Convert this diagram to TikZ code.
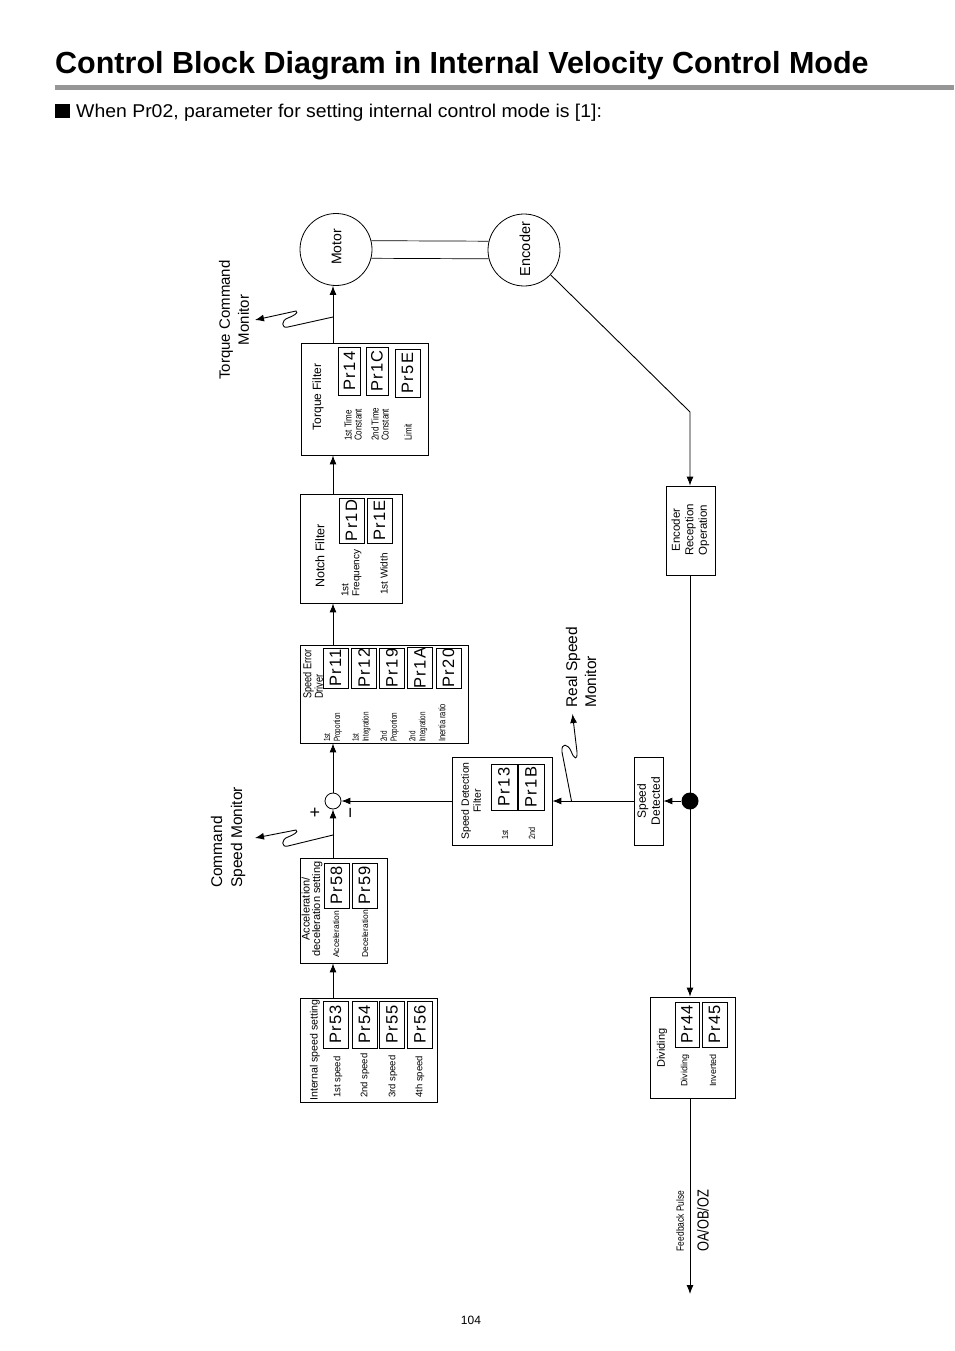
\documentclass[tikz,border=0pt]{standalone}
\usepackage{fontspec}
\setmainfont{Liberation Sans}
\newfontfamily\nfont[FakeStretch=0.8]{Liberation Sans}
\newfontfamily\vnfont[FakeStretch=0.7]{Liberation Sans}
\newfontfamily\prfont[LetterSpace=8]{Liberation Sans}
\newfontfamily\wfont[FakeStretch=1.05]{Liberation Sans}
\usetikzlibrary{arrows.meta,calc}
\newcommand\fsz[2]{\fontsize{#1}{#2}\selectfont}
\definecolor{barcol}{RGB}{150,150,150}
\begin{document}
\begin{tikzpicture}[x=1pt,y=-1pt,
  box/.style={draw, line width=0.8pt, inner sep=0pt, rectangle},
  prm/.style={draw, line width=0.9pt, rotate=90, inner sep=0pt, font=\prfont\fsz{16.5}{16.5}},
  rt/.style={rotate=90, inner sep=0pt},
  lbl/.style={rotate=90, inner sep=0pt, anchor=west, align=left},
  wire/.style={line width=0.9pt},
  arr/.style={line width=0.9pt, -{Latex[length=9pt,width=7pt]}}]
\useasboundingbox (0,0) rectangle (954,1351);
\fill[white] (0,0) rectangle (954,1351);

% ---- header
\node[anchor=base west, inner sep=0pt, font=\bfseries\fsz{30.5}{32}] (title) at (55,74) {Control Block Diagram in Internal Velocity Control Mode};
\fill[barcol] (55,85) rectangle (954,90.5);
\fill[black] (55,104) rectangle (70,118);
\node[anchor=base west, inner sep=0pt, font=\wfont\fsz{18.5}{19}] (sub) at (76,118) {When Pr02, parameter for setting internal control mode is [1]:};

\coordinate (mx) at (333,0);
\coordinate (fx) at (690,0);

% ---- motor / encoder
\node[circle, draw, line width=0.8pt, minimum size=72pt, inner sep=0pt] (mot) at (336,249.5) {};
\node[rt, font=\fsz{14}{14}] (motl) at (336.5,247) {Motor};
\node[circle, draw, line width=0.8pt, minimum size=72pt, inner sep=0pt] (enc) at (524,250) {};
\node[rt, font=\fsz{14.5}{14.5}] (encl) at (525,249) {Encoder};
\draw[line width=0.7pt] (mot.14) -- (enc.166);
\draw[line width=0.7pt] (mot.-14) -- (enc.-166);

% ---- main boxes
\node[box, minimum width=127pt, minimum height=112pt] (torque) at (364.5,399) {};
\node[box, minimum width=102pt, minimum height=109pt] (notch) at (351,548.5) {};
\node[box, minimum width=168pt, minimum height=98pt] (sed) at (384,694) {};
\node[box, minimum width=87pt, minimum height=105pt] (accel) at (343.5,910.5) {};
\node[box, minimum width=137pt, minimum height=104pt] (intsp) at (368.5,1050) {};
\node[box, minimum width=100pt, minimum height=88pt] (sdf) at (502,801) {};
\node[box, minimum width=29pt, minimum height=88pt] (spdet) at (648.5,801) {};
\node[box, minimum width=49pt, minimum height=89pt] (encrec) at (690.5,530.5) {};
\node[box, minimum width=85pt, minimum height=101pt] (divid) at (692.5,1047.5) {};
\node[circle, draw, line width=0.8pt, minimum size=16pt, inner sep=0pt] (sum) at (333,801) {};
\node[circle, fill=black, minimum size=17pt, inner sep=0pt] (dot) at (690,801) {};

% ---- torque filter
\node[rt, font=\fsz{12}{14}] (tft) at (318,397) {Torque Filter};
\node[lbl, font=\nfont\fsz{10}{10}] (tf1) at (353,441) {1st Time\\Constant};
\node[lbl, font=\nfont\fsz{10}{10}] (tf2) at (380,441) {2nd Time\\Constant};
\node[lbl, font=\nfont\fsz{10}{10}] (tf3) at (408,441) {Limit};
\node[prm, minimum width=48pt, minimum height=22pt] (p14) at (349.5,371) {Pr14};
\node[prm, minimum width=48pt, minimum height=22pt] (p1c) at (377,371) {Pr1C};
\node[prm, minimum width=48pt, minimum height=25pt] (p5e) at (407.5,373) {Pr5E};

% ---- notch filter
\node[rt, font=\fsz{12.5}{14}] (nft) at (320,556) {Notch Filter};
\node[lbl, font=\fsz{10}{11}] (nf1) at (351.5,597) {1st\\Frequency};
\node[lbl, font=\fsz{10}{11}] (nf2) at (384,595) {1st Width};
\node[prm, minimum width=45pt, minimum height=25pt] (p1d) at (351.5,520.5) {Pr1D};
\node[prm, minimum width=45pt, minimum height=25pt] (p1e) at (379.5,520.5) {Pr1E};

% ---- speed error driver
\node[lbl, font=\nfont\fsz{11.5}{11.5}] (sedt) at (313,699) {Speed Error\\Driver};
\node[lbl, font=\vnfont\fsz{9}{10}] (sl1) at (333,742) {1st\\Proportion};
\node[lbl, font=\vnfont\fsz{9}{10}] (sl2) at (361.5,742) {1st\\Integration};
\node[lbl, font=\vnfont\fsz{9}{10}] (sl3) at (389.5,742) {2nd\\Proportion};
\node[lbl, font=\vnfont\fsz{9}{10}] (sl4) at (418,742) {2nd\\Integration};
\node[lbl, font=\nfont\fsz{9.5}{10}] (sl5) at (442,742) {Inertia ratio};
\node[prm, minimum width=40pt, minimum height=25pt] (p11) at (335.5,668) {Pr11};
\node[prm, minimum width=40pt, minimum height=25pt] (p12) at (364,668) {Pr12};
\node[prm, minimum width=40pt, minimum height=25pt] (p19) at (392,668) {Pr19};
\node[prm, minimum width=40pt, minimum height=25pt] (p1a) at (420,668) {Pr1A};
\node[prm, minimum width=40pt, minimum height=25pt] (p20) at (448.5,668) {Pr20};

% ---- acceleration / deceleration
\node[rt, align=center, font=\fsz{11}{10.5}] (acct) at (312,909) {Acceleration/\\deceleration setting};
\node[lbl, font=\fsz{8.5}{10}] (al1) at (336,958) {Acceleration};
\node[lbl, font=\fsz{8.5}{10}] (al2) at (365,958) {Deceleration};
\node[prm, minimum width=45pt, minimum height=25pt] (p58) at (336.5,885.5) {Pr58};
\node[prm, minimum width=45pt, minimum height=25pt] (p59) at (364.5,885.5) {Pr59};

% ---- internal speed setting
\node[rt, font=\fsz{10.6}{12}] (intt) at (315,1050) {Internal speed setting};
\node[lbl, font=\fsz{9.5}{10}] (il1) at (338,1098) {1st speed};
\node[lbl, font=\fsz{9.5}{10}] (il2) at (365,1098) {2nd speed};
\node[lbl, font=\fsz{9.5}{10}] (il3) at (393,1098) {3rd speed};
\node[lbl, font=\fsz{9.5}{10}] (il4) at (420,1098) {4th speed};
\node[prm, minimum width=47pt, minimum height=25pt] (p53) at (335.5,1024.5) {Pr53};
\node[prm, minimum width=47pt, minimum height=25pt] (p54) at (364.5,1024.5) {Pr54};
\node[prm, minimum width=47pt, minimum height=25pt] (p55) at (392,1024.5) {Pr55};
\node[prm, minimum width=47pt, minimum height=25pt] (p56) at (420,1024.5) {Pr56};

% ---- speed detection filter
\node[rt, align=center, font=\fsz{10.5}{12}] (sdft) at (471,801) {Speed Detection\\Filter};
\node[lbl, font=\nfont\fsz{9}{10}] (sd1) at (505,840) {1st};
\node[lbl, font=\nfont\fsz{9}{10}] (sd2) at (532,840) {2nd};
\node[prm, minimum width=46pt, minimum height=26pt] (p13) at (504,787) {Pr13};
\node[prm, minimum width=46pt, minimum height=26pt] (p1b) at (531,787) {Pr1B};

% ---- speed detected / encoder reception
\node[rt, align=center, font=\fsz{12}{14}] (spdt) at (648.5,801) {Speed\\Detected};
\node[rt, align=center, font=\fsz{11.5}{13.5}] (erot) at (690.5,530) {Encoder\\Reception\\Operation};

% ---- dividing
\node[rt, font=\fsz{11}{12}] (divt) at (662,1048) {Dividing};
\node[lbl, font=\fsz{9}{10}] (dl1) at (685,1087) {Dividing};
\node[lbl, font=\fsz{9}{10}] (dl2) at (713,1087) {Inverted};
\node[prm, minimum width=45pt, minimum height=24pt] (p44) at (687,1024.5) {Pr44};
\node[prm, minimum width=45pt, minimum height=25pt] (p45) at (714.5,1024.5) {Pr45};

% ---- connectors
\draw[arr] (intsp.north -| mx) -- (accel.south -| mx);
\draw[arr] (accel.north -| mx) -- (sum.south);
\draw[arr] (sdf.west) -- (sum.east);
\draw[arr] (sum.north) -- (sed.south -| mx);
\draw[arr] (sed.north -| mx) -- (notch.south -| mx);
\draw[arr] (notch.north -| mx) -- (torque.south -| mx);
\draw[arr] (torque.north -| mx) -- (mot.south -| mx);
\coordinate (ecorner) at (690,412);
\draw[arr] (enc.-43) -- (ecorner) -- (encrec.north -| fx);
\draw[wire] (encrec.south -| fx) -- (dot.center);
\draw[arr] (dot.center) -- (divid.north -| fx);
\draw[arr] (dot.west) -- (spdet.east);
\draw[arr] (spdet.west) -- (sdf.east);
\coordinate (fbend) at (690,1294);
\draw[arr] (divid.south -| fx) -- (fbend);

% ---- monitors
\coordinate (tq0) at (333,317);
\coordinate (tqt) at (255,320);
\draw[arr] (tq0) -- (288,327) .. controls (281,329) and (281,320) .. (288,318) .. controls (293,316) and (299,313) .. (296,311) -- (tqt);
\coordinate (cs0) at (333,835);
\coordinate (cst) at (255,838);
\draw[arr] (cs0) -- (288,846) .. controls (281,848) and (281,839) .. (288,837) .. controls (293,835) and (299,832) .. (296,830) -- (cst);
\coordinate (rs0) at (571.5,801);
\coordinate (rst) at (572.5,714);
\draw[arr] (rs0) -- (562,752) .. controls (561,742) and (568,744) .. (571,751) .. controls (574,759) and (577.5,761) .. (577,752) -- (rst);

% ---- outside labels
\node[rt, align=center, font=\fsz{15}{19}] (tcm) at (234,320) {Torque Command\\Monitor};
\node[lbl, font=\fsz{15.5}{20}] (csm) at (228,888) {Command\\Speed Monitor};
\node[lbl, font=\fsz{15.5}{19}] (rsm) at (581,708) {Real Speed\\Monitor};
\node[rt, font=\nfont\fsz{10.5}{12}] (fbp) at (680,1221) {Feedback Pulse};
\node[rt, font=\nfont\fsz{16}{16}] (oab) at (703,1221) {OA/OB/OZ};
\node[inner sep=0pt, font=\fsz{18}{18}] (plus) at (315,813) {+};
\node[rt, font=\fsz{19}{19}] (minus) at (353,813) {−};
\node[inner sep=0pt, font=\fsz{12}{12}] (pg) at (471,1320) {104};
\end{tikzpicture}
\end{document}
